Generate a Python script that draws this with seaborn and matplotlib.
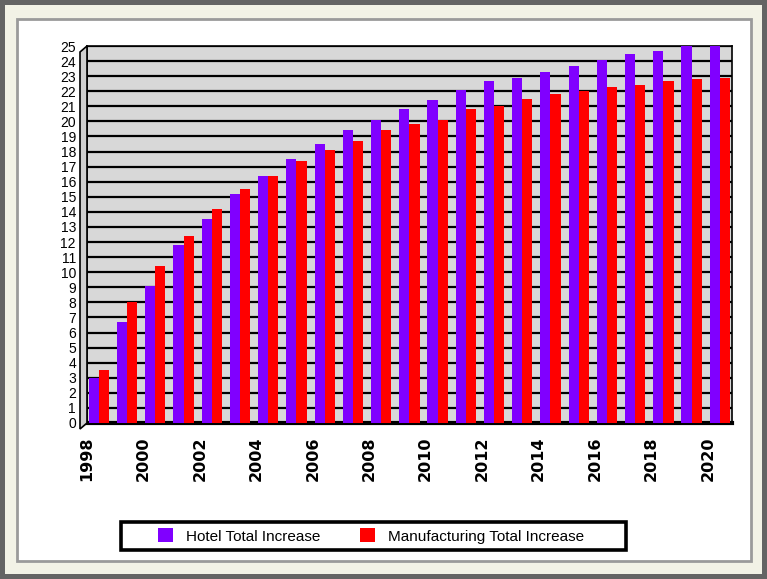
import matplotlib
matplotlib.use("Agg")
import matplotlib.pyplot as plt
from matplotlib.patches import Rectangle, Polygon, Patch
import seaborn as sns
import pandas as pd
import numpy as np

# data
years = [str(y) for y in range(1998, 2021)]
hotel = [3.0, 6.7, 9.1, 11.8, 13.5, 15.2, 16.4, 17.5, 18.5, 19.4, 20.1, 20.8,
         21.4, 22.1, 22.7, 22.9, 23.3, 23.7, 24.1, 24.5, 24.7, 25.0, 25.2]
manuf = [3.5, 8.0, 10.4, 12.4, 14.2, 15.5, 16.4, 17.4, 18.1, 18.7, 19.4, 19.8,
         20.1, 20.8, 21.0, 21.5, 21.8, 22.0, 22.3, 22.4, 22.7, 22.8, 22.9]
series = ["Hotel Total Increase", "Manufacturing Total Increase"]
colors = ["#8000ff", "#ff0000"]

df = pd.DataFrame({
    "Year": years * 2,
    "Value": hotel + manuf,
    "Series": [series[0]] * len(years) + [series[1]] * len(years),
})

W, H = 767, 579
fig = plt.figure(figsize=(W / 100, H / 100), dpi=100)
fig.patch.set_facecolor("#646464")


def px(x0, y0, x1, y1):
    # figure-fraction rectangle from pixel box (y from top)
    return (x0 / W, 1 - y1 / H), (x1 - x0) / W, (y1 - y0) / H


# outer frames
xy, w, h = px(5, 5, 762, 574)
fig.patches.append(Rectangle(xy, w, h, transform=fig.transFigure,
                             facecolor="#f2f2e6", edgecolor="none", zorder=-2))
xy, w, h = px(17, 19, 751, 561)
fig.patches.append(Rectangle(xy, w, h, transform=fig.transFigure,
                             facecolor="white", edgecolor="#9a9a9a", lw=2, zorder=-1))

# plot area
ax = fig.add_axes([87 / W, 1 - 423 / H, 645 / W, 377 / H])
ax.set_zorder(3)
ax.set_facecolor("#d8d8d8")
sns.barplot(data=df, x="Year", y="Value", hue="Series", palette=colors,
            width=0.72, gap=0, saturation=1, legend=False, ax=ax, zorder=3)

ax.set_xlim(-0.39, len(years) - 1 + 0.43)
ax.set_ylim(0, 25)
ax.set_yticks(range(0, 26))
ax.set_yticklabels([str(v) for v in range(0, 26)],
                   family="Liberation Sans", fontsize=10)
ax.grid(axis="y", color="black", lw=1.6, zorder=1)
ax.set_axisbelow(True)

tick_pos = np.arange(0, len(years), 2) - 0.42
ax.set_xticks(tick_pos)
ax.set_xticklabels(years[::2], rotation=90, fontsize=11.5, fontweight="bold",
                   va="top", ha="center")
ax.tick_params(axis="both", length=0)
ax.tick_params(axis="y", pad=8)
ax.tick_params(axis="x", pad=10)
ax.set_xlabel("")
ax.set_ylabel("")
for s in ax.spines.values():
    s.set_color("black")
    s.set_linewidth(1.2)
ax.spines["bottom"].set_linewidth(3)

# 3d-style left wall
wall = [(80 / W, 1 - 52 / H), (87 / W, 1 - 46 / H),
        (87 / W, 1 - 423 / H), (80 / W, 1 - 429 / H)]
fig.patches.append(Polygon(wall, closed=True, transform=fig.transFigure,
                           facecolor="#d0d0d0", edgecolor="black", lw=1.2, zorder=6))

# legend box
xy, w, h = px(121, 522, 626, 550)
fig.patches.append(Rectangle(xy, w, h, transform=fig.transFigure,
                             facecolor="white", edgecolor="black", lw=2.6, zorder=1))
handles = [Patch(facecolor=c, edgecolor="none") for c in colors]
leg = fig.legend(handles, series, loc="center", ncol=2, frameon=False,
                 bbox_to_anchor=(371 / W, 1 - 536 / H),
                 prop={"family": "Liberation Sans", "size": 11},
                 handlelength=1.0, handleheight=1.0, handletextpad=0.85,
                 columnspacing=2.6)
leg.set_zorder(7)

fig.savefig("out.png", dpi=100, facecolor=fig.get_facecolor())
